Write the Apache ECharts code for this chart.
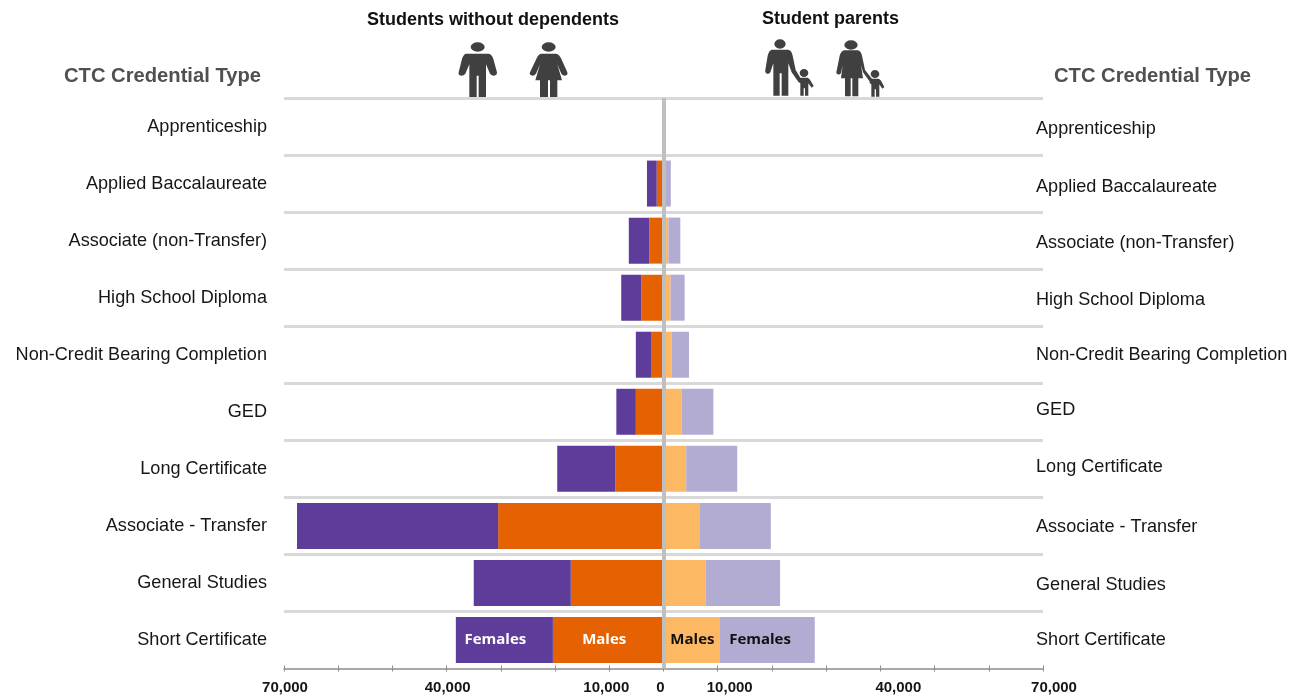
<!DOCTYPE html>
<html>
<head>
<meta charset="utf-8">
<title>CTC credential completions by parenting status</title>
<style>
  html, body { margin: 0; padding: 0; background: #fff; }
  #chart { width: 1302px; height: 698px; }
</style>
<script src="https://cdn.jsdelivr.net/npm/echarts@6/dist/echarts.min.js"></script>
</head>
<body>
<div id="chart"></div>
<script>
// Credential types, top row first
const categories = [
  'Apprenticeship', 'Applied Baccalaureate', 'Associate (non-Transfer)',
  'High School Diploma', 'Non-Credit Bearing Completion', 'GED',
  'Long Certificate', 'Associate - Transfer', 'General Studies', 'Short Certificate'
];

// Headcounts per credential type
const noDependentsMales   = [0, 1250, 2600, 4100, 2300, 5100, 8900, 30500, 17100, 20400];
const noDependentsFemales = [0, 1800, 3800, 3700, 2800, 3600, 10700, 37100, 17900, 17900];
const parentMales         = [0, 350, 900, 1300, 1500, 3300, 4200, 6600, 7800, 10300];
const parentFemales       = [0, 1000, 2200, 2600, 3200, 5900, 9400, 13200, 13700, 17600];

const labelledTicks = [-70000, -40000, -10000, 0, 10000, 40000, 70000];

const PURPLE = '#5e3c99', ORANGE = '#e66101', LIGHT_ORANGE = '#fdb863', LAVENDER = '#b2abd2';
const ICON = '#404040', BODY_FONT = '"Liberation Sans", Arial, sans-serif', ROW_FONT_SIZE = 18.1;

// Horizontal nudges for the bottom scale labels
const tickNudge = { '-70000': 1, '-40000': 1, '-10000': -3, '0': -3, '10000': 12, '40000': 18, '70000': 11 };
const tickRich = {};
Object.keys(tickNudge).forEach(function (k) {
  const n = tickNudge[k];
  tickRich['t' + Math.abs(+k) + (k < 0 ? 'n' : 'p')] = {
    fontFamily: BODY_FONT, fontWeight: 'bold', fontSize: 15, color: '#161616',
    padding: n > 0 ? [0, 0, 0, 2 * n] : [0, 2 * -n, 0, 0]
  };
});

// Vertical nudges for the right-hand row labels
const rightRowNudge = [2.5, 3, 2, 2, 0.5, -1.5, -1.5, 1, 2, 0];
const rightRich = {};
rightRowNudge.forEach(function (n, i) {
  rightRich['r' + i] = {
    fontFamily: BODY_FONT, fontSize: ROW_FONT_SIZE, color: '#161616',
    padding: n > 0 ? [2 * n, 0, 0, 0] : [0, 0, 2 * -n, 0]
  };
});

function barData(values, sign, labelText, labelColor, labelOffset) {
  return values.map(function (v, i) {
    if (i !== values.length - 1) return sign * v;
    return {
      value: sign * v,
      label: {
        show: true, position: 'inside', formatter: labelText, color: labelColor,
        offset: labelOffset, fontFamily: '"Open Sans", sans-serif', fontWeight: 'bold', fontSize: 15
      }
    };
  });
}

function stackSeries(name, data, color, extra) {
  return Object.assign({
    name: name, type: 'bar', stack: 'total', barWidth: 46, data: data,
    itemStyle: { color: color }, silent: true
  }, extra || {});
}

const headingStyle = { font: 'bold 20.2px ' + BODY_FONT, fill: '#505050' };
const captionStyle = { font: 'bold 18px ' + BODY_FONT, fill: '#111' };

// Pictograms drawn on a 3x local grid
const pictograms = {
  iconMan: 'M62 36a21 14 0 1 0 42 0a21 14 0 1 0-42 0Z' +
       'M48 56L116 56Q126 58 130 72L141 112Q141 122 132 122Q124 122 120 116L108 88L108 188L86 188L86 122L80 122L80 188L58 188L58 88L46 116Q42 122 34 122Q24 122 26 112L36 72Q40 58 48 56Z',
  iconWoman: 'M275 36a21 14 0 1 0 42 0a21 14 0 1 0-42 0Z' +
       'M274 56L318 56Q328 58 333 70L352 112Q354 122 345 122Q338 122 334 116L322 88L336 136L322 136L322 188L300 188L300 136L294 136L294 188L270 188L270 136L256 136L270 88L258 116Q254 122 247 122Q236 120 240 112L260 70Q264 58 274 56Z',
  iconFather: 'M58 27a17 14 0 1 0 34 0a17 14 0 1 0-34 0Z' +
       'M50 44L100 44Q110 46 113 62L122 105L140 135L132 143L110 112L100 85L100 182L80 182L80 115L74 115L74 182L55 182L55 85L46 112Q42 118 36 116Q29 113 31 105L38 62Q42 46 50 44Z' +
       'M134 114a13 12 0 1 0 26 0a13 12 0 1 0-26 0Z' +
       'M136 128L158 128Q163 130 166 136L176 153L170 158L160 145L160 182L150 182L150 160L146 160L146 182L136 182L136 145L130 140Z',
  iconMother: 'M268 30a20 14 0 1 0 40 0a20 14 0 1 0-40 0Z' +
       'M268 46L308 46Q318 48 321 62L330 105L352 133L345 141L324 112L318 90L324 130L310 130L310 184L292 184L292 130L287 130L287 184L270 184L270 130L258 130L263 90L258 114Q254 120 248 118Q242 115 245 107L254 62Q258 48 268 46Z' +
       'M347 117a13 12 0 1 0 26 0a13 12 0 1 0-26 0Z' +
       'M349 131L371 131Q376 133 379 139L388 156L382 161L373 148L373 185L363 185L363 163L359 163L359 185L349 185L349 148L343 143Z'
};
Object.keys(pictograms).forEach(function (name) {
  echarts.graphic.registerShape(name, echarts.graphic.extendPath(pictograms[name], {}));
});

function iconShape(name) {
  return { type: name, silent: true, shape: {}, style: { fill: ICON } };
}

const chart = echarts.init(document.getElementById('chart'), null, { renderer: 'canvas' });

chart.setOption({
  animation: false,
  backgroundColor: '#fff',
  grid: { left: 284, right: 259, top: 98, height: 570.5 },
  xAxis: [
    {
      type: 'value', position: 'bottom', min: -70000, max: 70000, interval: 10000,
      splitLine: { show: false },
      axisLine: { show: true, lineStyle: { color: '#8c8c8c', width: 1.5 } },
      axisTick: { show: true, length: 3, lineStyle: { color: '#8c8c8c', width: 1 } },
      axisLabel: {
        show: true, margin: 12, interval: 0, rich: tickRich,
        formatter: function (v) {
          if (labelledTicks.indexOf(v) < 0) return '';
          const key = 't' + Math.abs(v) + (v < 0 ? 'n' : 'p');
          return '{' + key + '|' + Math.abs(v).toLocaleString('en-US') + '}';
        }
      }
    },
    {
      // second scale on the same baseline carries the upward half of each tick
      type: 'value', position: 'bottom', min: -70000, max: 70000, interval: 10000,
      splitLine: { show: false }, axisLine: { show: false }, axisLabel: { show: false },
      axisTick: { show: true, inside: true, length: 3, lineStyle: { color: '#8c8c8c', width: 1 } }
    }
  ],
  yAxis: [
    {
      type: 'category', position: 'left', inverse: true, data: categories,
      axisLine: { show: false, onZero: false }, axisTick: { show: false },
      splitLine: { show: true, showMaxLine: false, lineStyle: { color: '#d9d9d9', width: 3 } },
      axisLabel: {
        interval: 0, margin: 17, align: 'right', color: '#161616',
        fontFamily: BODY_FONT, fontSize: ROW_FONT_SIZE, padding: [0, 0, 2, 0]
      }
    },
    {
      type: 'category', position: 'right', inverse: true, data: categories,
      axisLine: { show: false, onZero: false }, axisTick: { show: false }, splitLine: { show: false },
      axisLabel: {
        interval: 0, margin: -7, align: 'left', rich: rightRich,
        formatter: function (value, index) { return '{r' + index + '|' + value + '}'; }
      }
    }
  ],
  series: [
    stackSeries('Students without dependents, males',
      barData(noDependentsMales, -1, 'Males', '#fff', [-4, 0]), ORANGE),
    stackSeries('Students without dependents, females',
      barData(noDependentsFemales, -1, 'Females', '#fff', [-9, 0]), PURPLE),
    stackSeries('Student parents, males',
      barData(parentMales, 1, 'Males', '#111', [1, 0]), LIGHT_ORANGE, {
        markLine: {
          silent: true, symbol: 'none', label: { show: false }, z: 10,
          lineStyle: { color: '#bfbfbf', width: 4, type: 'solid' },
          data: [{ xAxis: 0 }]
        }
      }),
    stackSeries('Student parents, females',
      barData(parentFemales, 1, 'Females', '#111', [-7, 0]), LAVENDER)
  ],
  graphic: [
    { type: 'text', silent: true, x: 367, y: 11, style: Object.assign({ text: 'Students without dependents' }, captionStyle) },
    { type: 'text', silent: true, x: 762, y: 10, style: Object.assign({ text: 'Student parents' }, captionStyle) },
    { type: 'text', silent: true, x: 64, y: 66, style: Object.assign({ text: 'CTC Credential Type' }, headingStyle) },
    { type: 'text', silent: true, x: 1054, y: 66, style: Object.assign({ text: 'CTC Credential Type' }, headingStyle) },
    { type: 'group', silent: true, x: 450, y: 35, scaleX: 1 / 3, scaleY: 1 / 3,
      children: [iconShape('iconMan'), iconShape('iconWoman')] },
    { type: 'group', silent: true, x: 755, y: 35, scaleX: 1 / 3, scaleY: 1 / 3,
      children: [iconShape('iconFather'), iconShape('iconMother')] }
  ]
});
</script>
</body>
</html>
